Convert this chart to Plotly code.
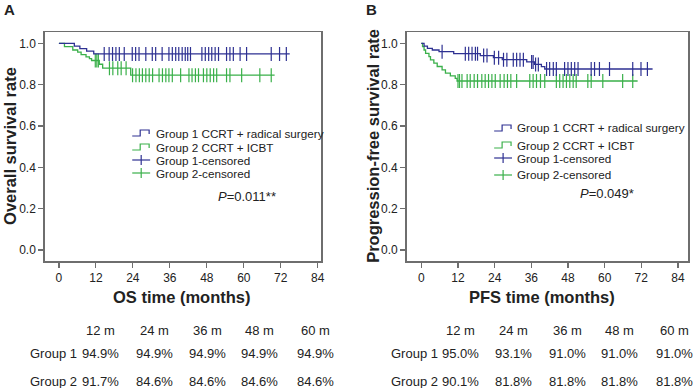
import plotly.graph_objects as go

W, H = 698, 388
BLUE = "#2E3192"
GREEN = "#3AB04A"
TXT = "#222222"
AXC = "#6e6e6e"
FONT = "Liberation Sans, Arial, Helvetica, sans-serif"

# ---------------- data ----------------
# Panel A: overall survival
os_g1_events = [5.0, 6.8, 9.0, 11.3]
os_g1_surv = [0.987, 0.975, 0.962, 0.949]
os_g1_censor = [14.7, 16.3, 17.4, 18.5, 19.6, 21.2, 23.8, 24.9, 26.0, 28.2, 30.3, 31.4,
                33.5, 35.7, 36.8, 37.9, 38.9, 40.0, 41.0, 41.8, 42.7, 46.4, 47.5, 48.6,
                49.6, 50.7, 51.8, 54.4, 55.5, 56.6, 58.8, 60.9, 68.9, 71.6, 73.8]
os_g1_end = 74.9

os_g2_events = [1.8, 4.5, 6.1, 7.2, 8.8, 9.9, 10.6, 13.1, 14.2, 23.3]
os_g2_surv = [0.984, 0.968, 0.958, 0.946, 0.935, 0.926, 0.917, 0.899, 0.880, 0.846]
os_g2_censor = [11.8, 12.3, 12.8, 16.4, 17.5, 19.1, 20.2, 21.8, 23.9, 25.0, 26.1, 27.1,
                28.2, 29.3, 30.4, 32.5, 33.6, 34.7, 35.7, 36.8, 39.5, 42.2, 43.2, 44.3,
                45.3, 46.9, 48.0, 49.1, 50.2, 51.2, 54.4, 55.5, 59.3, 65.2, 68.9]
os_g2_end = 70.0

# Panel B: progression-free survival
pfs_g1_events = [0.9, 2.0, 3.6, 5.8, 10.6, 19.3, 23.6, 26.5, 34.5, 37.0, 39.3, 40.4]
pfs_g1_surv = [0.987, 0.976, 0.968, 0.960, 0.950, 0.941, 0.931, 0.921, 0.910, 0.898, 0.887, 0.876]
pfs_g1_censor = [6.8, 14.4, 15.5, 16.6, 17.7, 18.4, 20.4, 21.5, 23.9, 25.3, 26.9, 28.0,
                 30.1, 31.2, 32.3, 33.4, 36.1, 36.6, 37.4, 38.3, 41.0, 42.0, 43.2, 44.2,
                 46.9, 48.0, 49.1, 50.2, 51.3, 55.6, 56.7, 58.3, 61.6, 69.2, 71.9, 74.0]
pfs_g1_end = 75.7

pfs_g2_events = [0.4, 0.9, 1.4, 2.5, 3.0, 4.1, 5.2, 6.8, 7.9, 9.5, 11.1, 11.7]
pfs_g2_surv = [0.984, 0.968, 0.952, 0.936, 0.920, 0.904, 0.888, 0.872, 0.856, 0.843, 0.831, 0.818]
pfs_g2_censor = [12.0, 12.5, 13.3, 15.0, 16.0, 17.3, 18.4, 19.8, 20.9, 22.0, 23.1, 24.2,
                 25.8, 27.1, 28.2, 29.3, 31.2, 35.5, 36.6, 37.7, 39.0, 40.4, 44.2, 45.3,
                 46.4, 47.5, 48.6, 49.7, 50.7, 54.5, 55.6, 59.4, 65.9, 69.2]
pfs_g2_end = 70.8

x_ticks = [0, 12, 24, 36, 48, 60, 72, 84]
y_ticks = [0.0, 0.2, 0.4, 0.6, 0.8, 1.0]

legend_labels = ["Group 1 CCRT + radical surgery", "Group 2 CCRT + ICBT",
                 "Group 1-censored", "Group 2-censored"]

table_headers = ["12 m", "24 m", "36 m", "48 m", "60 m"]
table_rows = ["Group 1", "Group 2"]
os_table_g1 = ["94.9%", "94.9%", "94.9%", "94.9%", "94.9%"]
os_table_g2 = ["91.7%", "84.6%", "84.6%", "84.6%", "84.6%"]
pfs_table_g1 = ["95.0%", "93.1%", "91.0%", "91.0%", "91.0%"]
pfs_table_g2 = ["90.1%", "81.8%", "81.8%", "81.8%", "81.8%"]

p_os = "<i>P</i>=0.011**"
p_pfs = "<i>P</i>=0.049*"


# ---------------- helpers ----------------
def px(x):
    return x / W


def py(y):
    return 1 - y / H


def step_xy(events, surv, end):
    xs = [0.0] + list(events) + [end]
    ys = [1.0] + list(surv) + [surv[-1]]
    return xs, ys


def surv_at(events, surv, t):
    s = 1.0
    for e, v in zip(events, surv):
        if e <= t:
            s = v
    return s


fig = go.Figure()


def add_curve(events, surv, end, censor, color, xa, ya):
    xs, ys = step_xy(events, surv, end)
    fig.add_trace(go.Scatter(x=xs, y=ys, mode="lines", line=dict(color=color, width=1.3, shape="hv"),
                             xaxis=xa, yaxis=ya, showlegend=False, hoverinfo="skip"))
    cy = [surv_at(events, surv, t) for t in censor]
    fig.add_trace(go.Scatter(x=censor, y=cy, mode="markers",
                             marker=dict(symbol="line-ns-open", size=10, color=color,
                                         line=dict(color=color, width=1.2)),
                             xaxis=xa, yaxis=ya, showlegend=False, hoverinfo="skip"))


add_curve(os_g2_events, os_g2_surv, os_g2_end, os_g2_censor, GREEN, "x", "y")
add_curve(os_g1_events, os_g1_surv, os_g1_end, os_g1_censor, BLUE, "x", "y")
add_curve(pfs_g2_events, pfs_g2_surv, pfs_g2_end, pfs_g2_censor, GREEN, "x2", "y2")
add_curve(pfs_g1_events, pfs_g1_surv, pfs_g1_end, pfs_g1_censor, BLUE, "x2", "y2")

axis_common = dict(showgrid=False, zeroline=False, showline=True, mirror=True, linecolor=AXC,
                   linewidth=1.5, ticks="outside", ticklen=5, tickwidth=1.2, tickcolor=AXC,
                   tickfont=dict(family=FONT, size=12, color=TXT))
ydom = [py(261), py(32)]
fig.update_layout(
    width=W, height=H, margin=dict(l=0, r=0, t=0, b=0),
    paper_bgcolor="white", plot_bgcolor="white", showlegend=False,
    font=dict(family=FONT, color=TXT),
    xaxis=dict(domain=[px(45), px(323)], range=[-4.6, 85.1], tickvals=x_ticks, anchor="y", **axis_common),
    yaxis=dict(domain=ydom, range=[-0.053, 1.055], tickvals=y_ticks, tickformat=".1f", anchor="x", **axis_common),
    xaxis2=dict(domain=[px(409), px(692)], range=[-4.8, 87.3], tickvals=x_ticks, anchor="y2", **axis_common),
    yaxis2=dict(domain=ydom, range=[-0.053, 1.055], tickvals=y_ticks, tickformat=".1f", anchor="x2", **axis_common),
)

ann = []
shapes = []


def text(x, y, s, size=12, anchor="center", bold=False, angle=0):
    ann.append(dict(x=px(x), y=py(y), xref="paper", yref="paper", text=("<b>%s</b>" % s) if bold else s,
                    showarrow=False, xanchor=anchor, yanchor="middle", textangle=angle,
                    font=dict(family=FONT, size=size, color=TXT)))


# panel letters
text(2, 9, "A", size=15, anchor="left", bold=True)
text(366, 9, "B", size=15, anchor="left", bold=True)
# axis titles
text(10, 146, "Overall survival rate", size=16.5, bold=True, angle=-90)
text(375, 146, "Progression-free survival rate", size=16.5, bold=True, angle=-90)
text(183, 297, "OS time (months)", size=16.5, bold=True)
text(545, 297, "PFS time (months)", size=16.5, bold=True)
# p values
text(248, 196, p_os, size=13)
text(611, 193, p_pfs, size=13)


def legend(icon_x, text_x, rows):
    colors = [BLUE, GREEN, BLUE, GREEN]
    for i, (label, yc) in enumerate(zip(legend_labels, rows)):
        c = colors[i]
        text(text_x, yc, label, size=11.7, anchor="left")
        if i < 2:
            x0 = icon_x
            path = "M %f,%f L %f,%f L %f,%f L %f,%f L %f,%f" % (
                px(x0), py(yc + 3), px(x0 + 8), py(yc + 3), px(x0 + 8), py(yc - 3),
                px(x0 + 17), py(yc - 3), px(x0 + 17), py(yc + 1))
            shapes.append(dict(type="path", path=path, xref="paper", yref="paper",
                               line=dict(color=c, width=1.2)))
        else:
            shapes.append(dict(type="line", xref="paper", yref="paper", x0=px(icon_x), x1=px(icon_x + 18),
                               y0=py(yc), y1=py(yc), line=dict(color=c, width=1.2)))
            shapes.append(dict(type="line", xref="paper", yref="paper", x0=px(icon_x + 9), x1=px(icon_x + 9),
                               y0=py(yc - 5), y1=py(yc + 5), line=dict(color=c, width=1.2)))


legend(133, 155, [133, 147, 160, 173])
legend(497, 518, [128, 145, 158, 175])


def table(label_right, col_x, g1, g2):
    ys = [330, 353, 381]
    for cx, h in zip(col_x, table_headers):
        text(cx, ys[0], h, size=13)
    text(label_right, ys[1], table_rows[0], size=13, anchor="right")
    text(label_right, ys[2], table_rows[1], size=13, anchor="right")
    for cx, v1, v2 in zip(col_x, g1, g2):
        text(cx, ys[1], v1, size=13)
        text(cx, ys[2], v2, size=13)


table(79, [101, 155, 209, 261, 317], os_table_g1, os_table_g2)
table(443, [463, 516, 571, 623, 678], pfs_table_g1, pfs_table_g2)

fig.update_layout(annotations=ann, shapes=shapes)
fig.write_html("out.html", config={"displayModeBar": False, "staticPlot": True},
               post_script="document.body.style.margin='0px';document.body.style.padding='0px';")
